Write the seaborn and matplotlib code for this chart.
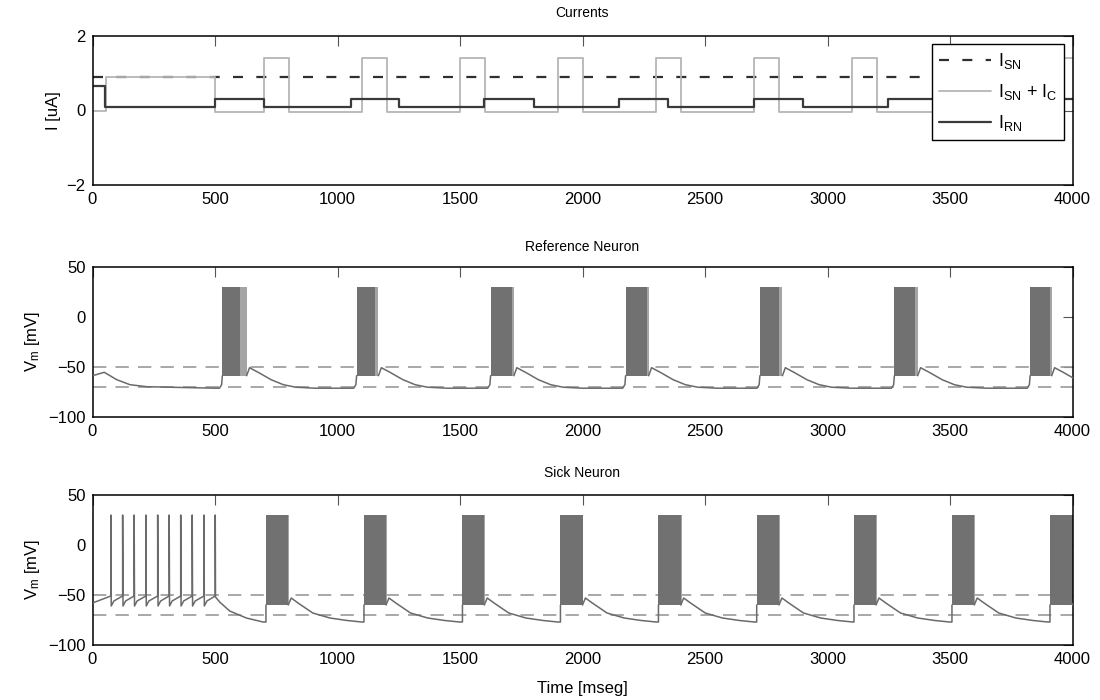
import numpy as np
import pandas as pd
import matplotlib
matplotlib.use("Agg")
import matplotlib.pyplot as plt
import seaborn as sns

# ---------------- data ----------------
# Currents panel (step signals, value holds until next time)
t_sn = [0, 4000]
i_sn = [0.9, 0.9]
t_snc = [0, 55, 500, 700, 800, 1100, 1200, 1500, 1600, 1900, 2000, 2300, 2400,
         2700, 2800, 3100, 3200, 3500, 3600, 3900, 4000]
i_snc = [0.0, 0.9, -0.05, 1.4, -0.05, 1.4, -0.05, 1.4, -0.05, 1.4, -0.05, 1.4,
         -0.05, 1.4, -0.05, 1.4, -0.05, 1.4, -0.05, 1.4, 1.4]
t_rn = [0, 52, 500, 700, 1054, 1251, 1598, 1802, 2149, 2349, 2700, 2900, 3247,
        3450, 3800, 4000]
i_rn = [0.65, 0.1, 0.3, 0.1, 0.3, 0.1, 0.3, 0.1, 0.3, 0.1, 0.3, 0.1, 0.3, 0.1,
        0.3, 0.3]

# Reference neuron
ref_burst_on = [530, 1078, 1625, 2176, 2724, 3273, 3827]
ref_burst_dark_end = [602, 1153, 1714, 2265, 2802, 3357, 3908]
ref_burst_end = [629, 1167, 1720, 2270, 2816, 3368, 3915]
ref_burst_low = -59
ref_burst_high = 30
ref_init_t = [0, 48, 99, 153, 221, 500]
ref_init_v = [-59, -55.6, -63, -68, -70, -71.5]
ref_rec_dt = [0, 12, 50, 100, 150, 200, 280]          # after burst end
ref_rec_v = [-59, -51, -56, -63, -68, -70.5, -71.5]
ref_pre_dt = [-12, -3]                                # before burst onset
ref_pre_v = [-71.5, -68]

# Sick neuron
sick_spike_t = [75, 123, 170, 218, 266, 313, 360, 407, 455, 501]
sick_spike_peak = 30
sick_init_v = -58
sick_reset_v = -61
sick_mid_v = -56
sick_thresh_v = -51
sick_decay_t = [502, 519, 560, 628, 696, 708]
sick_decay_v = [-52, -57, -66, -73, -77, -77]
sick_burst_on = [708, 1108, 1510, 1910, 2310, 2711, 3108, 3508, 3908]
sick_burst_end = [799, 1198, 1599, 2000, 2401, 2802, 3198, 3599, 4000]
sick_burst_low = -60
sick_burst_high = 30
sick_rec_dt = [0, 12, 40, 100, 170, 240, 300]
sick_rec_v = [-60, -53, -58, -68, -73, -75.5, -77]

thresholds = [-50, -70]
x_ticks = [0, 500, 1000, 1500, 2000, 2500, 3000, 3500, 4000]

# ---------------- build traces ----------------
def ref_trace():
    rows = []
    seg = 0
    for t, v in zip(ref_init_t, ref_init_v):
        rows.append((t, v, seg))
    on = ref_burst_on[0]
    for d, v in zip(ref_pre_dt, ref_pre_v):
        rows.append((on + d, v, seg))
    rows.append((on, ref_burst_low, seg))
    for k, end in enumerate(ref_burst_end):
        seg += 1
        for d, v in zip(ref_rec_dt, ref_rec_v):
            rows.append((end + d, v, seg))
        if k + 1 < len(ref_burst_on):
            on = ref_burst_on[k + 1]
            for d, v in zip(ref_pre_dt, ref_pre_v):
                rows.append((on + d, v, seg))
            rows.append((on, ref_burst_low, seg))
    return pd.DataFrame(rows, columns=["t", "v", "seg"])


def sick_trace():
    rows = []
    seg = 0
    rows.append((0, sick_init_v, seg))
    prev = None
    for ts in sick_spike_t:
        if prev is not None:
            rows.append((prev + 1.5, sick_reset_v, seg))
            rows.append((prev + 12, sick_mid_v, seg))
        rows.append((ts, sick_thresh_v, seg))
        rows.append((ts, sick_spike_peak, seg))
        prev = ts
    for t, v in zip(sick_decay_t, sick_decay_v):
        rows.append((t, v, seg))
    rows.append((sick_burst_on[0], sick_burst_low, seg))
    for k, end in enumerate(sick_burst_end):
        seg += 1
        nxt = sick_burst_on[k + 1] if k + 1 < len(sick_burst_on) else None
        for d, v in zip(sick_rec_dt, sick_rec_v):
            if nxt is None or end + d < nxt:
                rows.append((end + d, v, seg))
        if nxt is not None:
            rows.append((nxt, sick_rec_v[-1], seg))
            rows.append((nxt, sick_burst_low, seg))
    return pd.DataFrame(rows, columns=["t", "v", "seg"])


# ---------------- style ----------------
sns.set_theme(style="white")
plt.rcParams["font.family"] = ["Liberation Sans", "DejaVu Sans"]
plt.rcParams["mathtext.fontset"] = "custom"
plt.rcParams["mathtext.rm"] = "Liberation Sans"
plt.rcParams["mathtext.it"] = "Liberation Sans"
plt.rcParams["mathtext.default"] = "regular"
plt.rcParams["axes.edgecolor"] = "black"
plt.rcParams["text.color"] = "black"
plt.rcParams["axes.labelcolor"] = "black"
plt.rcParams["axes.titlecolor"] = "black"

W, H = 1100, 700
fig = plt.figure(figsize=(11, 7), dpi=100)
left = 92.5 / W
width = 980 / W
ax1 = fig.add_axes([left, 1 - 185 / H, width, 149 / H])
ax2 = fig.add_axes([left, 1 - 416.7 / H, width, 150 / H])
ax3 = fig.add_axes([left, 1 - 645 / H, width, 150 / H])

trace_color = "#6a6a6a"
burst_dark = "#717171"
burst_light = "#a4a4a4"
thr_color = "#9a9a9a"

# ---- Currents ----
sns.lineplot(x=t_sn, y=i_sn, ax=ax1, color="#2f2f2f", lw=1.6,
             linestyle=(0, (4.5, 6)), estimator=None, sort=False,
             label=r"$I_{SN}$")
sns.lineplot(x=t_snc, y=i_snc, ax=ax1, color="#b5b5b5", lw=1.3,
             drawstyle="steps-post", estimator=None, sort=False,
             label=r"$I_{SN}$ + $I_C$")
sns.lineplot(x=t_rn, y=i_rn, ax=ax1, color="#3a3a3a", lw=1.6,
             drawstyle="steps-post", estimator=None, sort=False,
             label=r"$I_{RN}$")
ax1.set_ylim(-2, 2)
ax1.set_yticks([-2, 0, 2])
ax1.set_ylabel("I [uA]", fontsize=12)
ax1.set_title("Currents", fontsize=10, pad=14)
handles, labels = ax1.get_legend_handles_labels()
leg = ax1.legend(handles, labels, loc="upper right", fontsize=13,
                 frameon=True, fancybox=False, edgecolor="black",
                 framealpha=1, handlelength=2.9, handletextpad=0.35,
                 labelspacing=0.6, borderaxespad=0.45, borderpad=0.4)
leg.get_frame().set_linewidth(1.0)

# ---- Reference neuron ----
for y in thresholds:
    ax2.axhline(y, color=thr_color, lw=1.2, linestyle=(0, (8, 5.5)), zorder=1)
for on, de, en in zip(ref_burst_on, ref_burst_dark_end, ref_burst_end):
    ax2.fill_between([on, de], [ref_burst_low] * 2, [ref_burst_high] * 2,
                     color=burst_dark, lw=0, zorder=2)
    ax2.fill_between([de, en], [ref_burst_low] * 2, [ref_burst_high] * 2,
                     color=burst_light, lw=0, zorder=2)
sns.lineplot(data=ref_trace(), x="t", y="v", units="seg", estimator=None,
             sort=False, ax=ax2, color=trace_color, lw=1.1, legend=False,
             zorder=3)
ax2.set_ylim(-100, 50)
ax2.set_yticks([-100, -50, 0, 50])
ax2.set_ylabel(r"V$_m$ [mV]", fontsize=12)
ax2.set_title("Reference Neuron", fontsize=10, pad=11)

# ---- Sick neuron ----
for y in thresholds:
    ax3.axhline(y, color=thr_color, lw=1.2, linestyle=(0, (8, 5.5)), zorder=1)
for on, en in zip(sick_burst_on, sick_burst_end):
    ax3.fill_between([on, en], [sick_burst_low] * 2, [sick_burst_high] * 2,
                     color=burst_dark, lw=0, zorder=2)
    ax3.fill_between([en, en + 4], [sick_burst_low] * 2,
                     [sick_burst_high] * 2, color=burst_light, lw=0, zorder=2)
sns.lineplot(data=sick_trace(), x="t", y="v", units="seg", estimator=None,
             sort=False, ax=ax3, color=trace_color, lw=1.1, legend=False,
             zorder=3)
ax3.set_ylim(-100, 50)
ax3.set_yticks([-100, -50, 0, 50])
ax3.set_ylabel(r"V$_m$ [mV]", fontsize=12)
ax3.set_title("Sick Neuron", fontsize=10, pad=13)
ax3.set_xlabel("Time [mseg]", fontsize=12, labelpad=10)

for ax in (ax1, ax2, ax3):
    ax.set_xlim(0, 4000)
    ax.set_xticks(x_ticks)
    if ax is not ax3:
        ax.set_xlabel("")
    ax.tick_params(direction="in", length=7, width=0.8, color="#555555",
                   top=True, right=True, labelsize=12, labelcolor="black",
                   pad=5)
    for s in ax.spines.values():
        s.set_visible(True)
        s.set_color("black")
        s.set_linewidth(1.1)

fig.savefig("out.png", dpi=100)
